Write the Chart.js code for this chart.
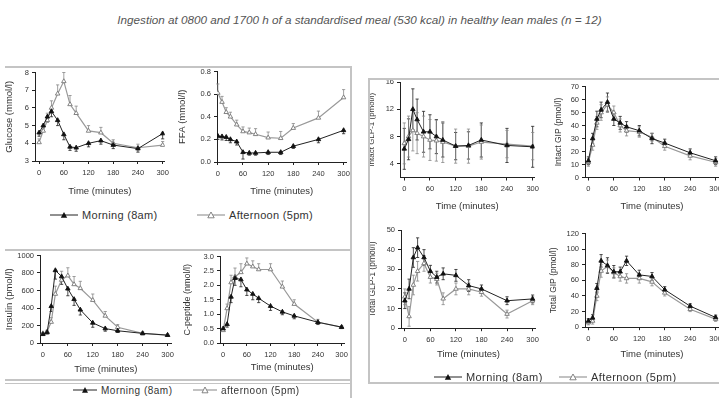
<!DOCTYPE html>
<html><head><meta charset="utf-8">
<script src="https://cdn.jsdelivr.net/npm/chart.js@4.4.1/dist/chart.umd.min.js"></script>
<style>
html,body{margin:0;padding:0;width:719px;height:398px;overflow:hidden;background:#fff;font-family:"Liberation Sans",Arial,sans-serif;}
.cv{position:absolute;}
.title{position:absolute;left:0;width:719px;top:13px;text-align:center;font-style:italic;font-size:11.7px;color:#555;white-space:nowrap;}
.leg{position:absolute;height:14px;display:flex;align-items:center;white-space:nowrap;color:#333;}
.leg svg{margin-right:4px;}
.fr{position:absolute;background:#c4c4c4;z-index:5;}
</style></head><body>
<div class="title">Ingestion at 0800 and 1700 h of a standardised meal (530 kcal) in healthy lean males (n = 12)</div>

<canvas id="cA" class="cv"></canvas>
<canvas id="cB" class="cv"></canvas>
<canvas id="cC" class="cv"></canvas>
<canvas id="cD" class="cv"></canvas>
<canvas id="cE" class="cv"></canvas>
<canvas id="cF" class="cv"></canvas>
<canvas id="cG" class="cv"></canvas>
<canvas id="cH" class="cv"></canvas>

<div class="fr" style="left:5px;top:66px;width:347px;height:2px;"></div>
<div class="fr" style="left:350px;top:66px;width:2px;height:332px;"></div>
<div class="fr" style="left:5px;top:249px;width:347px;height:2px;"></div>
<div class="fr" style="left:5px;top:379px;width:347px;height:2px;"></div>
<div class="fr" style="left:5px;top:383px;width:347px;height:1px;"></div>
<div class="fr" style="left:368px;top:78px;width:351px;height:1.5px;"></div>
<div class="fr" style="left:368px;top:78px;width:1.5px;height:306px;"></div>
<div class="fr" style="left:368px;top:382px;width:351px;height:1.5px;"></div>

<div class="leg" style="left:50px;top:208px;font-size:11px;letter-spacing:0.3px;"><svg width="28" height="8"><line x1="0" y1="4" x2="28" y2="4" stroke="#222" stroke-width="1"/><polygon points="14,1 17.2,6.8 10.8,6.8" fill="#111"/></svg><span id="lgA"></span></div>
<div class="leg" style="left:197px;top:208px;font-size:11px;letter-spacing:0.3px;"><svg width="28" height="8"><line x1="0" y1="4" x2="28" y2="4" stroke="#999" stroke-width="1.2"/><polygon points="14,1 17.2,6.8 10.8,6.8" fill="#fff" stroke="#777" stroke-width="0.9"/></svg><span id="lgB"></span></div>
<div class="leg" style="left:73px;top:383px;font-size:10px;letter-spacing:0.5px;"><svg width="24" height="8"><line x1="0" y1="4" x2="24" y2="4" stroke="#222" stroke-width="1"/><polygon points="12,1 15,6.8 9,6.8" fill="#111"/></svg><span id="lgC"></span></div>
<div class="leg" style="left:193px;top:383px;font-size:10px;letter-spacing:0.5px;"><svg width="24" height="8"><line x1="0" y1="4" x2="24" y2="4" stroke="#999" stroke-width="1.2"/><polygon points="12,1 15,6.8 9,6.8" fill="#fff" stroke="#777" stroke-width="0.9"/></svg><span id="lgD"></span></div>
<div class="leg" style="left:434px;top:370px;font-size:11px;letter-spacing:0.4px;"><svg width="28" height="8"><line x1="0" y1="4" x2="28" y2="4" stroke="#222" stroke-width="1"/><polygon points="14,1 17.2,6.8 10.8,6.8" fill="#111"/></svg><span id="lgE"></span></div>
<div class="leg" style="left:559px;top:370px;font-size:11px;letter-spacing:0.4px;"><svg width="28" height="8"><line x1="0" y1="4" x2="28" y2="4" stroke="#999" stroke-width="1.2"/><polygon points="14,1 17.2,6.8 10.8,6.8" fill="#fff" stroke="#777" stroke-width="0.9"/></svg><span id="lgF"></span></div>

<script>
// ---------- data ----------
const morningLabel = "Morning (8am)";
const afternoonLabel = "Afternoon (5pm)";
const morningLabelLower = "Morning (8am)";
const afternoonLabelLower = "afternoon (5pm)";
const xTitle = "Time (minutes)";

const timeMinutes = [0, 10, 20, 30, 45, 60, 75, 90, 120, 150, 180, 240, 300];
const xTickValues = [0, 60, 120, 180, 240, 300];

// Glucose (mmol/l)
const glucoseTicks = [3, 4, 5, 6, 7, 8];
const glucoseMorning   = [4.6, 5.0, 5.5, 5.8, 5.3, 4.5, 3.8, 3.75, 4.0, 4.15, 3.9, 3.7, 4.55];
const glucoseAfternoon = [4.05, 4.7, 5.3, 6.0, 6.8, 7.5, 6.2, 5.7, 4.7, 4.6, 4.0, 3.75, 3.9];
const glucoseMorningErr   = [0.2, 0.3, 0.3, 0.3, 0.3, 0.3, 0.2, 0.2, 0.2, 0.2, 0.2, 0.2, 0.3];
const glucoseAfternoonErr = [0.2, 0.3, 0.4, 0.4, 0.5, 0.5, 0.5, 0.4, 0.3, 0.3, 0.2, 0.2, 0.2];

// FFA (mmol/l)
const ffaTicks = [0.0, 0.2, 0.4, 0.6, 0.8];
const ffaMorning   = [0.23, 0.225, 0.22, 0.20, 0.18, 0.086, 0.08, 0.08, 0.086, 0.086, 0.14, 0.20, 0.28];
const ffaAfternoon = [0.61, 0.53, 0.44, 0.40, 0.33, 0.27, 0.26, 0.245, 0.215, 0.21, 0.30, 0.39, 0.57];
const ffaMorningErr   = [0.03, 0.03, 0.03, 0.03, 0.03, 0.06, 0.02, 0.02, 0.02, 0.02, 0.02, 0.03, 0.03];
const ffaAfternoonErr = [0.08, 0.05, 0.04, 0.04, 0.04, 0.04, 0.04, 0.05, 0.05, 0.06, 0.04, 0.06, 0.07];

// Insulin (pmol/l)
const insulinTicks = [0, 200, 400, 600, 800, 1000];
const insulinMorning   = [100, 120, 420, 830, 760, 620, 500, 380, 230, 165, 140, 110, 90];
const insulinAfternoon = [110, 130, 240, 560, 720, 770, 670, 625, 490, 310, 180, 110, 90];
const insulinMorningErr   = [10, 15, 60, 100, 90, 80, 70, 60, 50, 30, 20, 15, 10];
const insulinAfternoonErr = [10, 15, 50, 90, 100, 90, 90, 80, 70, 50, 30, 15, 10];

// C-peptide (nmol/l)
const cpepTicks = [0.0, 0.5, 1.0, 1.5, 2.0, 2.5, 3.0];
const cpepMorning   = [0.5, 0.65, 1.6, 2.25, 2.2, 1.85, 1.7, 1.55, 1.28, 1.08, 0.94, 0.72, 0.55];
const cpepAfternoon = [0.44, 1.2, 2.1, 2.3, 2.45, 2.75, 2.65, 2.55, 2.55, 1.95, 1.35, 0.72, 0.55];
const cpepMorningErr   = [0.05, 0.1, 0.2, 0.25, 0.25, 0.2, 0.2, 0.15, 0.15, 0.1, 0.1, 0.08, 0.05];
const cpepAfternoonErr = [0.05, 0.15, 0.25, 0.3, 0.3, 0.2, 0.2, 0.2, 0.2, 0.2, 0.15, 0.1, 0.05];

// Intact GLP-1 (pmol/l)
const glp1IntactTicks = [4, 8, 12, 16];
const glp1IntactMorning   = [6.2, 7.6, 12.0, 10.5, 8.7, 8.7, 8.0, 7.5, 6.6, 6.7, 7.5, 6.7, 6.5];
const glp1IntactAfternoon = [7.0, 8.0, 8.9, 8.5, 8.0, 7.5, 7.4, 7.2, 6.6, 6.6, 7.2, 6.9, 6.6];
const glp1IntactMorningErr   = [3, 3, 3, 3, 3, 2.5, 2.5, 2.5, 2, 2, 2.5, 2.5, 3];
const glp1IntactAfternoonErr = [3, 3, 3, 3, 3, 3, 3, 3, 2.5, 2.5, 2.5, 2, 2];

// Intact GIP (pmol/l)
const gipIntactTicks = [0, 10, 20, 30, 40, 50, 60, 70];
const gipIntactMorning   = [12.9, 30, 45, 52, 58, 45, 42, 39, 36, 30, 26.5, 19, 12.9];
const gipIntactAfternoon = [11.7, 25, 42, 50, 56, 50, 40, 36, 35, 31, 24, 16.6, 11.7];
const gipIntactMorningErr   = [3, 4, 6, 6, 7, 5, 5, 4, 4, 4, 3, 3, 3];
const gipIntactAfternoonErr = [3, 4, 5, 6, 6, 5, 5, 4, 4, 3, 3, 3, 3];

// Total GLP-1 (pmol/l)
const glp1TotalTicks = [0, 10, 20, 30, 40, 50];
const glp1TotalMorning   = [14, 20, 36, 41, 36, 29, 26, 27.7, 26.9, 21.7, 20, 14, 14.9];
const glp1TotalAfternoon = [16, 6, 22, 29, 33, 26, 25, 15, 20, 20, 18.3, 7.2, 14];
const glp1TotalMorningErr   = [4, 5, 5, 5, 4, 3, 3, 3, 3, 3, 2, 2, 2];
const glp1TotalAfternoonErr = [4, 5, 5, 5, 4, 3, 3, 3, 3, 3, 2, 2, 2];

// Total GIP (pmol/l)
const gipTotalTicks = [0, 20, 40, 60, 80, 100, 120];
const gipTotalMorning   = [8, 12, 50, 85, 79, 71, 71, 85, 67, 65, 48, 27, 12.5];
const gipTotalAfternoon = [6, 8, 40, 72, 78, 70, 65, 62.5, 62.5, 58, 44, 23, 10.4];
const gipTotalMorningErr   = [3, 4, 6, 8, 10, 8, 6, 6, 6, 5, 4, 3, 3];
const gipTotalAfternoonErr = [3, 4, 6, 8, 8, 6, 6, 6, 6, 5, 4, 3, 3];

// ---------- drawing ----------
document.getElementById('lgA').textContent = morningLabel;
document.getElementById('lgB').textContent = afternoonLabel;
document.getElementById('lgC').textContent = morningLabelLower;
document.getElementById('lgD').textContent = afternoonLabelLower;
document.getElementById('lgE').textContent = morningLabel;
document.getElementById('lgF').textContent = afternoonLabel;

const FONT = "'Liberation Sans', Arial, sans-serif";

const errorBarPlugin = {
  id: 'errorBars',
  beforeDatasetsDraw(chart) {
    const ctx = chart.ctx, ys = chart.scales.y;
    chart.data.datasets.forEach((ds, i) => {
      if (!ds.errors) return;
      const meta = chart.getDatasetMeta(i);
      ctx.save();
      ctx.strokeStyle = ds.errColor;
      ctx.lineWidth = 0.8;
      meta.data.forEach((pt, j) => {
        const e = ds.errors[j];
        if (!e) return;
        const v = ds.data[j].y;
        const yUp = ys.getPixelForValue(v + e), yDn = ys.getPixelForValue(v - e);
        const top = ds.errDir === 'down' ? pt.y : yUp;
        const bot = ds.errDir === 'up' ? pt.y : yDn;
        ctx.beginPath();
        ctx.moveTo(pt.x, top); ctx.lineTo(pt.x, bot);
        if (ds.errDir !== 'down') { ctx.moveTo(pt.x - 1.6, top); ctx.lineTo(pt.x + 1.6, top); }
        if (ds.errDir !== 'up') { ctx.moveTo(pt.x - 1.6, bot); ctx.lineTo(pt.x + 1.6, bot); }
        ctx.stroke();
      });
      ctx.restore();
    });
  }
};

function series(vals, errs, morning, dir) {
  return {
    data: timeMinutes.map((t, i) => ({x: t, y: vals[i]})),
    errors: errs,
    errDir: dir,
    errColor: morning ? '#222' : '#888',
    borderColor: morning ? '#222' : '#999',
    borderWidth: morning ? 1 : 1.2,
    pointStyle: 'triangle',
    pointRadius: 2.6,
    pointBackgroundColor: morning ? '#111' : '#fff',
    pointBorderColor: morning ? '#111' : '#777',
    pointBorderWidth: 0.9,
    tension: 0,
    fill: false
  };
}

function panel(id, box, p) {
  const cv = document.getElementById(id);
  const padTop = box.padTop || 4;
  cv.style.left = box.left + 'px';
  cv.style.top = box.top + 'px';
  cv.style.width = box.width + 'px';
  cv.style.height = box.height + 'px';
  cv.width = box.width; cv.height = box.height;
  new Chart(cv, {
    type: 'line',
    data: {datasets: [
      series(p.m, p.me, true, p.mDir),
      series(p.a, p.ae, false, p.aDir)
    ]},
    options: {
      responsive: false,
      animation: false,
      events: [],
      layout: {padding: {top: padTop, right: box.right, left: 0, bottom: 0}},
      plugins: {legend: {display: false}, tooltip: {enabled: false}},
      scales: {
        x: {
          type: 'linear', min: p.xMin, max: p.xMax,
          afterBuildTicks: ax => { ax.ticks = xTickValues.map(v => ({value: v})); },
          afterFit: ax => { ax.height = box.xh; },
          grid: {drawOnChartArea: false, drawTicks: true, tickLength: 3, color: '#222'},
          border: {display: true, color: '#222', width: 1},
          ticks: {font: {family: FONT, size: 7.5}, color: '#333', padding: 4, maxRotation: 0, autoSkip: false},
          title: {display: true, text: xTitle, font: {family: FONT, size: 9.5}, color: '#333', padding: {top: 0, bottom: 0}}
        },
        y: {
          type: 'linear', min: p.yMin, max: p.yMax,
          afterBuildTicks: ax => { ax.ticks = p.yTicks.map(v => ({value: v})); },
          afterFit: ax => { ax.width = box.yw; },
          grid: {drawOnChartArea: false, drawTicks: true, tickLength: 3, color: '#222'},
          border: {display: true, color: '#222', width: 1},
          ticks: {font: {family: FONT, size: 7.5}, color: '#333', padding: 3, autoSkip: false,
                  callback: v => Number(v).toFixed(p.dec)},
          title: {display: true, text: p.yTitle, font: {family: FONT, size: p.ts}, color: '#333', padding: {top: 0, bottom: 0}}
        }
      }
    },
    plugins: [errorBarPlugin]
  });
}

panel('cA', {left: 4, top: 65, width: 169, height: 132, yw: 31, xh: 36, right: 6},
  {m: glucoseMorning, me: glucoseMorningErr, a: glucoseAfternoon, ae: glucoseAfternoonErr, mDir: 'down', aDir: 'up',
   xMin: -10, xMax: 305, yMin: 3, yMax: 8, yTicks: glucoseTicks, dec: 0, yTitle: 'Glucose (mmol/l)', ts: 9.5});

panel('cB', {left: 177, top: 64, width: 177, height: 133, yw: 40, xh: 35, right: 6},
  {m: ffaMorning, me: ffaMorningErr, a: ffaAfternoon, ae: ffaAfternoonErr, mDir: 'down', aDir: 'up',
   xMin: -2, xMax: 307, yMin: 0, yMax: 0.8, yTicks: ffaTicks, dec: 1, yTitle: 'FFA (mmol/l)', ts: 9.5});

panel('cC', {left: 4, top: 248, width: 174, height: 127, yw: 36, xh: 32, right: 6},
  {m: insulinMorning, me: insulinMorningErr, a: insulinAfternoon, ae: insulinAfternoonErr, mDir: 'down', aDir: 'up',
   xMin: -7, xMax: 310, yMin: 0, yMax: 1000, yTicks: insulinTicks, dec: 0, yTitle: 'Insulin (pmol/l)', ts: 9.5});

panel('cD', {left: 182, top: 249, width: 170, height: 124, yw: 38, xh: 30, right: 6},
  {m: cpepMorning, me: cpepMorningErr, a: cpepAfternoon, ae: cpepAfternoonErr, mDir: 'down', aDir: 'up',
   xMin: -8, xMax: 307, yMin: 0, yMax: 3.0, yTicks: cpepTicks, dec: 1, yTitle: 'C-peptide (nmol/l)', ts: 9});

panel('cE', {left: 367, top: 72, width: 176, height: 140, yw: 33, xh: 34.5, right: 6, padTop: 10},
  {m: glp1IntactMorning, me: glp1IntactMorningErr, a: glp1IntactAfternoon, ae: glp1IntactAfternoonErr, mDir: 'both', aDir: 'both',
   xMin: -10, xMax: 304, yMin: 2, yMax: 16, yTicks: glp1IntactTicks, dec: 0, yTitle: 'Intact GLP-1 (pmol/l)', ts: 8});

panel('cF', {left: 554, top: 79, width: 180, height: 133, yw: 31, xh: 34.5, right: 15},
  {m: gipIntactMorning, me: gipIntactMorningErr, a: gipIntactAfternoon, ae: gipIntactAfternoonErr, mDir: 'both', aDir: 'both',
   xMin: -8, xMax: 308, yMin: 0, yMax: 70, yTicks: gipIntactTicks, dec: 0, yTitle: 'Intact GIP (pmol/l)', ts: 8.5});

panel('cG', {left: 368, top: 220, width: 175, height: 140, yw: 33, xh: 31.8, right: 6, padTop: 10},
  {m: glp1TotalMorning, me: glp1TotalMorningErr, a: glp1TotalAfternoon, ae: glp1TotalAfternoonErr, mDir: 'both', aDir: 'both',
   xMin: -9, xMax: 308, yMin: 0, yMax: 50, yTicks: glp1TotalTicks, dec: 0, yTitle: 'Total GLP-1 (pmol/l)', ts: 8.5});

panel('cH', {left: 549, top: 226, width: 185, height: 134, yw: 36, xh: 32.8, right: 15},
  {m: gipTotalMorning, me: gipTotalMorningErr, a: gipTotalAfternoon, ae: gipTotalAfternoonErr, mDir: 'both', aDir: 'both',
   xMin: -8, xMax: 308, yMin: 0, yMax: 120, yTicks: gipTotalTicks, dec: 0, yTitle: 'Total GIP (pmol/l)', ts: 8.5});
</script>
</body></html>
